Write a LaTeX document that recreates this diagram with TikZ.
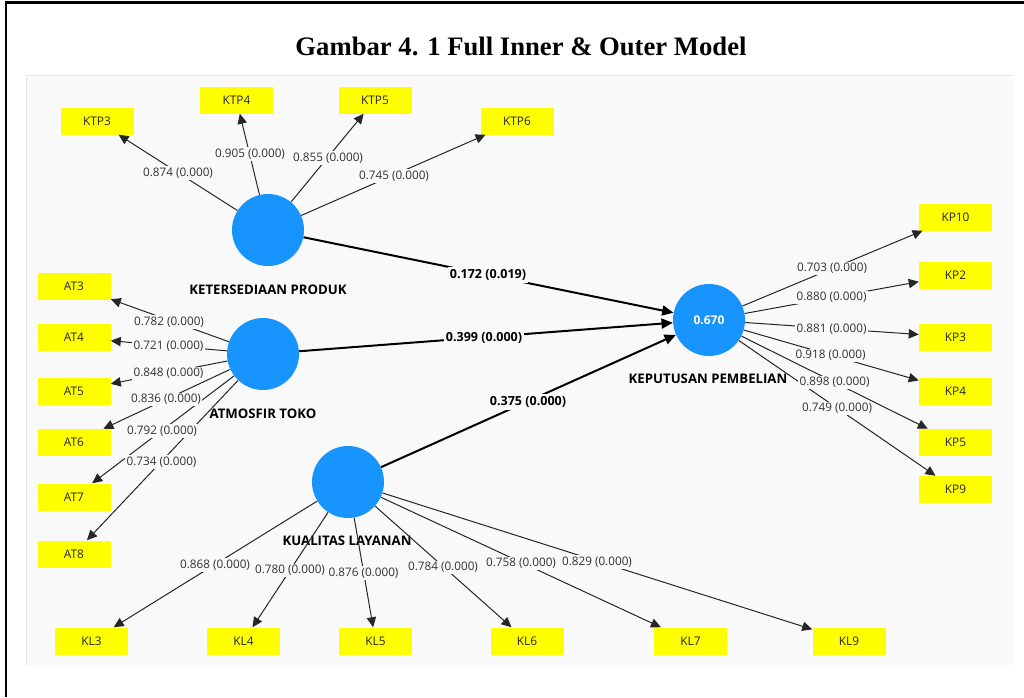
\documentclass[tikz,border=0pt]{standalone}
\usepackage{fontspec}
\setmainfont{Open Sans}
\newfontfamily\titlefont{Liberation Serif}
\usetikzlibrary{arrows.meta}
\definecolor{panel}{RGB}{249,249,249}
\definecolor{paneledge}{RGB}{228,228,228}
\definecolor{lvblue}{RGB}{24,148,255}
\definecolor{mvyellow}{RGB}{255,255,0}
\definecolor{numgray}{RGB}{50,50,50}
\begin{document}
\begin{tikzpicture}[x=0.75pt,y=-0.75pt,
  lv/.style={circle,fill=lvblue,minimum size=54pt,inner sep=0pt,text=white,font=\bfseries\fontsize{9}{11}\selectfont},
  mv/.style={rectangle,fill=mvyellow,minimum width=54.75pt,minimum height=20.25pt,inner sep=0pt,font=\fontsize{8.9}{10}\selectfont,text=black!85},
  lvname/.style={font=\bfseries\fontsize{9.9}{11}\selectfont,text=black},
  outer/.style={draw=black!85,line width=0.75pt,-{Triangle[length=7.5pt,width=7pt]}},
  inner/.style={draw=black,line width=1.5pt,-{Triangle[length=8.5pt,width=7.5pt]}},
  load/.style={fill=panel,inner sep=1pt,font=\fontsize{8.8}{10}\selectfont,text=numgray},
  coef/.style={fill=panel,inner sep=1.5pt,font=\bfseries\fontsize{9.4}{11}\selectfont,text=black},
  ttl/.style={font=\titlefont\bfseries\fontsize{20}{24}\selectfont,anchor=base}
]
\useasboundingbox (0,0) rectangle (1024,697);
\fill[white] (0,0) rectangle (1024,697);
% frame
\draw[line width=2.2pt] (5,2.5) -- (1024,2.5);
\draw[line width=1.5pt] (6,2.5) -- (6,697);
% title
\node[ttl] (title) at (521,55) {Gambar 4. 1 Full Inner \& Outer Model};
% panel
\fill[panel] (26,75) rectangle (1013,665);
\draw[paneledge,line width=0.75pt] (26,665) -- (26,75) -- (1013,75);

% latent variables
\node[lv] (lvKTP) at (268,230) {};
\node[lv] (lvAT) at (263,354) {};
\node[lv] (lvKL) at (348,482) {};
\node[lv] (lvKP) at (709,320) {0.670};

\node[lvname] (nKTP) at (268,290) {KETERSEDIAAN PRODUK};
\node[lvname] (nAT) at (263,414) {ATMOSFIR TOKO};
\node[lvname] (nKL) at (347,541) {KUALITAS LAYANAN};
\node[lvname] (nKP) at (708,379) {KEPUTUSAN PEMBELIAN};

% indicators
\node[mv] (KTP3) at (97,121) {KTP3};
\node[mv] (KTP4) at (236.5,100) {KTP4};
\node[mv] (KTP5) at (375,100) {KTP5};
\node[mv] (KTP6) at (517,121) {KTP6};

\node[mv] (AT3) at (74,286) {AT3};
\node[mv] (AT4) at (74,337.5) {AT4};
\node[mv] (AT5) at (74,391) {AT5};
\node[mv] (AT6) at (74,442.5) {AT6};
\node[mv] (AT7) at (74,497) {AT7};
\node[mv] (AT8) at (74,554) {AT8};

\node[mv] (KL3) at (91.5,641) {KL3};
\node[mv] (KL4) at (243.5,641) {KL4};
\node[mv] (KL5) at (375.5,641) {KL5};
\node[mv] (KL6) at (527,641) {KL6};
\node[mv] (KL7) at (690.5,641) {KL7};
\node[mv] (KL9) at (849,641) {KL9};

\node[mv] (KP10) at (955.5,217) {KP10};
\node[mv] (KP2) at (955.5,275) {KP2};
\node[mv] (KP3) at (955.5,337) {KP3};
\node[mv] (KP4) at (955.5,391) {KP4};
\node[mv] (KP5) at (955.5,442.5) {KP5};
\node[mv] (KP9) at (955.5,489.5) {KP9};

% outer model connectors
\foreach \t in {KTP3,KTP4,KTP5,KTP6} \draw[outer] (lvKTP) -- (\t);
\foreach \t in {AT3,AT4,AT5,AT6,AT7,AT8} \draw[outer] (lvAT) -- (\t);
\foreach \t in {KL3,KL4,KL5,KL6,KL7,KL9} \draw[outer] (lvKL) -- (\t);
\foreach \t in {KP10,KP2,KP3,KP4,KP5,KP9} \draw[outer] (lvKP) -- (\t);

% inner model connectors
\draw[inner] (lvKTP) -- (lvKP);
\draw[inner] (lvAT) -- (lvKP);
\draw[inner] (lvKL) -- (lvKP);

% loading labels
\node[load] (lKTP3) at (178,173) {0.874 (0.000)};
\node[load] (lKTP4) at (250,154) {0.905 (0.000)};
\node[load] (lKTP5) at (328,158) {0.855 (0.000)};
\node[load] (lKTP6) at (394,176) {0.745 (0.000)};

\node[load] (lAT3) at (169,322) {0.782 (0.000)};
\node[load] (lAT4) at (168.5,346.5) {0.721 (0.000)};
\node[load] (lAT5) at (168.5,373.5) {0.848 (0.000)};
\node[load] (lAT6) at (166,399.5) {0.836 (0.000)};
\node[load] (lAT7) at (162,431) {0.792 (0.000)};
\node[load] (lAT8) at (161.5,462) {0.734 (0.000)};

\node[load] (lKL3) at (215,565) {0.868 (0.000)};
\node[load] (lKL4) at (290,570.5) {0.780 (0.000)};
\node[load] (lKL5) at (363.5,573) {0.876 (0.000)};
\node[load] (lKL6) at (443,567.5) {0.784 (0.000)};
\node[load] (lKL7) at (521,563.5) {0.758 (0.000)};
\node[load] (lKL9) at (597,562) {0.829 (0.000)};

\node[load] (lKP10) at (832,268.5) {0.703 (0.000)};
\node[load] (lKP2) at (831.5,297.5) {0.880 (0.000)};
\node[load] (lKP3) at (831.5,329) {0.881 (0.000)};
\node[load] (lKP4) at (830.5,355.5) {0.918 (0.000)};
\node[load] (lKP5) at (834.5,382.5) {0.898 (0.000)};
\node[load] (lKP9) at (837,408.5) {0.749 (0.000)};

% path coefficient labels
\node[coef] (cKTP) at (488,275) {0.172 (0.019)};
\node[coef] (cAT) at (484,338) {0.399 (0.000)};
\node[coef] (cKL) at (528,402) {0.375 (0.000)};
\end{tikzpicture}
\end{document}
